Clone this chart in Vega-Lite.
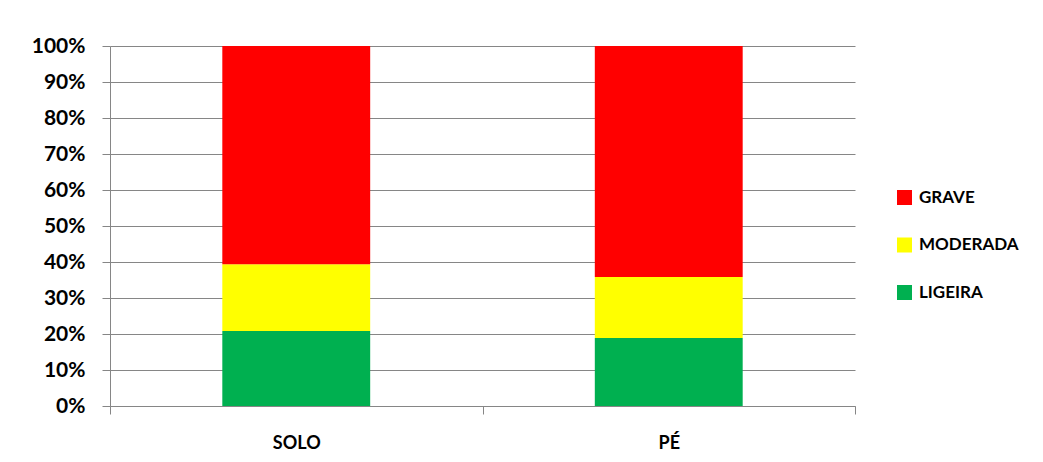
{
  "$schema": "https://vega.github.io/schema/vega-lite/v6.json",
  "autosize": "none",
  "padding": {"left": 110, "top": 46, "right": 188, "bottom": 56},
  "width": 745,
  "height": 360,
  "background": "white",
  "data": {
    "values": [
      {"local": "SOLO", "nivel": "Ligeira", "pct": 20.8},
      {"local": "SOLO", "nivel": "Moderada", "pct": 18.6},
      {"local": "SOLO", "nivel": "Grave", "pct": 60.6},
      {"local": "PÉ", "nivel": "Ligeira", "pct": 18.9},
      {"local": "PÉ", "nivel": "Moderada", "pct": 16.9},
      {"local": "PÉ", "nivel": "Grave", "pct": 64.2}
    ]
  },
  "transform": [
    {"calculate": "indexof(['Ligeira', 'Moderada', 'Grave'], datum.nivel)", "as": "ordem"}
  ],
  "mark": {"type": "bar", "width": {"band": 0.397}},
  "encoding": {
    "x": {
      "field": "local",
      "type": "nominal",
      "sort": ["SOLO", "PÉ"],
      "scale": {"paddingInner": 0, "paddingOuter": 0},
      "axis": {
        "title": null,
        "labelAngle": 0,
        "tickBand": "extent",
        "tickSize": 8,
        "tickColor": "#868686",
        "domainColor": "#868686",
        "labelPadding": 20,
        "labelFont": "Lato",
        "labelFontWeight": "bold",
        "labelFontSize": 18,
        "labelColor": "#000000"
      }
    },
    "y": {
      "field": "pct",
      "type": "quantitative",
      "stack": "normalize",
      "scale": {"domain": [0, 1], "nice": false},
      "axis": {
        "title": null,
        "format": ".0%",
        "values": [0, 0.1, 0.2, 0.3, 0.4, 0.5, 0.6, 0.7, 0.8, 0.9, 1],
        "grid": true,
        "gridColor": "#868686",
        "gridWidth": 1,
        "tickSize": 8,
        "tickColor": "#868686",
        "domainColor": "#868686",
        "labelPadding": 17,
        "labelFont": "Lato",
        "labelFontWeight": "bold",
        "labelFontSize": 21,
        "labelColor": "#000000"
      }
    },
    "color": {
      "field": "nivel",
      "type": "nominal",
      "scale": {
        "domain": ["Grave", "Moderada", "Ligeira"],
        "range": ["#FF0000", "#FFFF00", "#00B050"]
      },
      "legend": {
        "title": null,
        "orient": "none",
        "legendX": 786,
        "legendY": 143,
        "symbolType": "square",
        "symbolSize": 225,
        "symbolStrokeWidth": 0,
        "rowPadding": 29.5,
        "labelOffset": 6,
        "labelExpr": "upper(datum.label)",
        "labelFont": "Lato",
        "labelFontWeight": "bold",
        "labelFontSize": 17,
        "labelColor": "#000000"
      }
    },
    "order": {"field": "ordem", "type": "quantitative"}
  },
  "config": {
    "view": {"stroke": null},
    "axis": {"domainWidth": 1, "tickWidth": 1}
  }
}
